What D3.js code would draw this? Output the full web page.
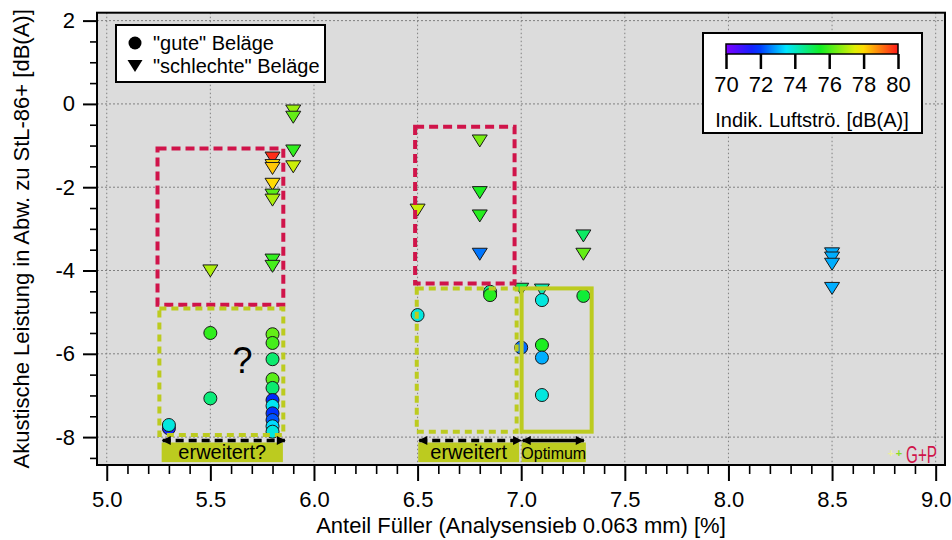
<!DOCTYPE html>
<html><head><meta charset="utf-8">
<script src="https://cdn.jsdelivr.net/npm/d3@7"></script>
<style>body{margin:0;background:#fff} svg{display:block;font-family:"Liberation Sans",Arial,sans-serif}</style>
</head><body><svg id="c" width="952" height="540"></svg>
<script>
// ---- data ----
const goodX = [5.5, 5.5, 5.3, 5.3, 5.8, 5.8, 5.8, 5.8, 5.8, 5.8, 5.8, 5.8, 5.8, 5.8, 5.8, 6.5, 6.85, 6.85, 7.0, 7.1, 7.1, 7.1, 7.1, 7.3];
const goodY = [-5.50, -7.07, -7.79, -7.71, -5.53, -5.74, -6.13, -6.61, -6.82, -7.11, -7.25, -7.43, -7.59, -7.74, -7.87, -5.07, -4.51, -4.59, -5.85, -4.71, -5.79, -6.09, -6.99, -4.61];
const goodC = [75.8, 74.7, 71.5, 73.8, 76.3, 76.0, 74.8, 76.2, 74.8, 71.8, 73.6, 71.9, 72.2, 73.4, 73.8, 73.8, 74.5, 75.7, 72.4, 73.8, 75.6, 73.0, 73.8, 75.3];
const badX = [5.5, 5.8, 5.8, 5.8, 5.8, 5.8, 5.8, 5.8, 5.8, 5.9, 5.9, 5.9, 5.9, 6.5, 6.8, 6.8, 6.8, 6.8, 7.0, 7.1, 7.3, 7.3, 8.5, 8.5, 8.5, 8.5];
const badY = [-4.01, -1.30, -1.48, -1.55, -1.93, -2.19, -2.31, -3.75, -3.90, -0.17, -0.32, -1.13, -1.51, -2.55, -0.89, -2.13, -2.69, -3.61, -4.45, -4.47, -3.17, -3.61, -3.60, -3.70, -3.85, -4.43];
const badC = [77.0, 79.8, 78.0, 78.2, 78.0, 76.2, 77.0, 75.8, 76.0, 76.8, 76.3, 75.8, 77.3, 77.3, 76.5, 75.6, 75.7, 72.5, 75.0, 74.2, 74.9, 76.3, 73.0, 73.0, 73.0, 73.0];
const xMajor = [5.0, 5.5, 6.0, 6.5, 7.0, 7.5, 8.0, 8.5, 9.0];
const yMajor = [-8, -6, -4, -2, 0, 2];
const cbTicks = [70, 72, 74, 76, 78, 80];
const legendLabels = ['"gute" Beläge', '"schlechte" Beläge'];
const xTitle = "Anteil Füller (Analysensieb 0.063 mm) [%]";
const yTitle = "Akustische Leistung in Abw. zu StL-86+ [dB(A)]";
const cbTitle = "Indik. Luftströ. [dB(A)]";
// annotation boxes in data units: [x0, x1, y0, y1]
const boxRedLeft = [5.245, 5.852, -1.07, -4.82];
const boxYelLeft = [5.254, 5.852, -4.91, -7.95];
const boxRedMid = [6.488, 6.968, -0.55, -4.31];
const boxYelMid = [6.496, 6.978, -4.43, -7.87];
const boxOpt = [7.002, 7.340, -4.43, -7.87];
const labelBoxes = [
  {x0: 5.265, x1: 5.850, text: "erweitert?", dashed: true, fs: 20},
  {x0: 6.503, x1: 6.990, text: "erweitert", dashed: true, fs: 20},
  {x0: 7.002, x1: 7.312, text: "Optimum", dashed: false, fs: 16}
];

// ---- setup ----
const svg = d3.select("#c");
const L = 97, R = 945, T = 12.7, B = 465;
const x = d3.scaleLinear().domain([4.953, 9.045]).range([L, R]);
const y = d3.scaleLinear().domain([-8.67, 2.19]).range([B, T]);
const color = d3.scaleLinear()
  .domain([70, 71.8, 73.5, 75.5, 77.8, 80])
  .range(["#7f00ff", "#0028ff", "#00e6ff", "#12ee22", "#ffee00", "#ff1a1a"])
  .clamp(true);

const red = "#d0144a", yel = "#bccb1f";
const FF = "Liberation Sans, Arial, sans-serif";

svg.append("rect").attr("x", L).attr("y", T).attr("width", R - L).attr("height", B - T).attr("fill", "#dcdcdc");

// grid
svg.append("g").selectAll("line").data(xMajor).join("line")
  .attr("x1", d => x(d)).attr("x2", d => x(d)).attr("y1", T).attr("y2", B)
  .attr("stroke", "#808080").attr("stroke-width", 1).attr("stroke-dasharray", "1.5,2.5");
svg.append("g").selectAll("line").data(yMajor).join("line")
  .attr("x1", L).attr("x2", R).attr("y1", d => y(d)).attr("y2", d => y(d))
  .attr("stroke", "#808080").attr("stroke-width", 1).attr("stroke-dasharray", "2,2");

// axes
const xMinor = d3.range(50, 91).map(v => v / 10).filter(v => Math.round(v * 10) % 5 !== 0);
const yMinor = d3.range(-17, 5).map(v => v / 2).filter(v => v % 2 !== 0);
function styleAxis(g, w) { g.select(".domain").remove(); g.selectAll(".tick line").attr("stroke", "#000").attr("stroke-width", w); }
svg.append("g").attr("transform", `translate(0,${B})`)
  .call(d3.axisBottom(x).tickValues(xMinor).tickSize(9).tickFormat(""))
  .call(g => styleAxis(g, 1.6));
svg.append("g").attr("transform", `translate(0,${B})`)
  .call(d3.axisBottom(x).tickValues(xMajor).tickSize(16).tickPadding(10).tickFormat(d => d.toFixed(1)))
  .call(g => styleAxis(g, 2))
  .call(g => g.selectAll("text").attr("font-size", 22).attr("fill", "#000").attr("font-family", FF));
svg.append("g").attr("transform", `translate(${L},0)`)
  .call(d3.axisLeft(y).tickValues(yMinor).tickSize(7).tickFormat(""))
  .call(g => styleAxis(g, 1.6));
svg.append("g").attr("transform", `translate(${L},0)`)
  .call(d3.axisLeft(y).tickValues(yMajor).tickSize(14).tickPadding(8).tickFormat(d => String(d)))
  .call(g => styleAxis(g, 2))
  .call(g => g.selectAll("text").attr("font-size", 22).attr("fill", "#000").attr("font-family", FF));

// points
const tri = "M-7.5,-6L7.5,-6L0,6Z";
const good = goodX.map((v, i) => ({x: v, y: goodY[i], c: goodC[i]}));
const bad = badX.map((v, i) => ({x: v, y: badY[i], c: badC[i]}));
svg.append("g").selectAll("path").data(bad).join("path")
  .attr("d", tri).attr("transform", d => `translate(${x(d.x)},${y(d.y)})`)
  .attr("fill", d => color(d.c)).attr("stroke", "#1a1a1a").attr("stroke-width", 1);
svg.append("g").selectAll("circle").data(good).join("circle")
  .attr("cx", d => x(d.x)).attr("cy", d => y(d.y)).attr("r", 6.5)
  .attr("fill", d => color(d.c)).attr("stroke", "#1a1a1a").attr("stroke-width", 1);

// annotation boxes
function box(b, col, dash) {
  svg.append("rect").attr("x", x(b[0])).attr("y", y(b[2])).attr("width", x(b[1]) - x(b[0])).attr("height", y(b[3]) - y(b[2]))
    .attr("fill", "none").attr("stroke", col).attr("stroke-width", 4).attr("stroke-dasharray", dash);
}
box(boxRedLeft, red, "9,5");
box(boxYelLeft, yel, "7,5");
box(boxRedMid, red, "9,5");
box(boxYelMid, yel, "7,5");
box(boxOpt, yel, null);

// label boxes with arrows
const defs = svg.append("defs");
defs.append("marker").attr("id", "ah").attr("viewBox", "0 0 10 10").attr("refX", 9).attr("refY", 5)
  .attr("markerWidth", 15).attr("markerHeight", 9).attr("markerUnits", "userSpaceOnUse").attr("orient", "auto-start-reverse")
  .append("path").attr("d", "M0,0L10,5L0,10Z").attr("fill", "#000");
const lbY0 = -8.13, lbY1 = -8.60, arY = -8.08;
labelBoxes.forEach(lb => {
  svg.append("rect").attr("x", x(lb.x0)).attr("y", y(lbY0)).attr("width", x(lb.x1) - x(lb.x0)).attr("height", y(lbY1) - y(lbY0))
    .attr("fill", yel);
  svg.append("line").attr("x1", x(lb.x0) + 1).attr("x2", x(lb.x1) + (lb.dashed ? 2 : -2)).attr("y1", y(arY)).attr("y2", y(arY))
    .attr("stroke", "#000").attr("stroke-width", 3.5).attr("stroke-dasharray", lb.dashed ? "8,5" : null)
    .attr("marker-start", "url(#ah)").attr("marker-end", "url(#ah)");
  svg.append("text").attr("x", (x(lb.x0) + x(lb.x1)) / 2).attr("y", y(lbY1) - 3).attr("text-anchor", "middle")
    .attr("font-size", lb.fs).attr("fill", "#000").text(lb.text);
});

svg.append("text").attr("x", x(5.655)).attr("y", y(-6.46)).attr("text-anchor", "middle").attr("font-size", 36).text("?");

// frame
svg.append("rect").attr("x", L).attr("y", T).attr("width", R - L).attr("height", B - T).attr("fill", "none").attr("stroke", "#000").attr("stroke-width", 2);

// titles
svg.append("text").attr("x", (L + R) / 2).attr("y", 533).attr("text-anchor", "middle").attr("font-size", 22).text(xTitle);
svg.append("text").attr("transform", `translate(28.5,${(T + B) / 2}) rotate(-90)`).attr("text-anchor", "middle").attr("font-size", 22).text(yTitle);

// marker legend
const lg = svg.append("g");
lg.append("rect").attr("x", 116).attr("y", 25).attr("width", 209).attr("height", 57).attr("fill", "#fff").attr("stroke", "#000").attr("stroke-width", 2);
lg.append("circle").attr("cx", 135).attr("cy", 43).attr("r", 6.5).attr("fill", "#000");
lg.append("path").attr("d", tri).attr("transform", "translate(135,66)").attr("fill", "#000");
lg.append("text").attr("x", 153).attr("y", 50).attr("font-size", 20).text(legendLabels[0]);
lg.append("text").attr("x", 153).attr("y", 73).attr("font-size", 20).text(legendLabels[1]);

// colour bar legend
const cb = svg.append("g");
cb.append("rect").attr("x", 703).attr("y", 33).attr("width", 219).attr("height", 100).attr("fill", "#fff").attr("stroke", "#000").attr("stroke-width", 2);
const cx = d3.scaleLinear().domain([70, 80]).range([726, 898]);
const grad = defs.append("linearGradient").attr("id", "rb");
d3.range(0, 1.0001, 0.05).forEach(t => grad.append("stop").attr("offset", t).attr("stop-color", color(70 + 10 * t)));
cb.append("rect").attr("x", cx(70)).attr("y", 44).attr("width", cx(80) - cx(70)).attr("height", 10).attr("fill", "url(#rb)").attr("stroke", "#000").attr("stroke-width", 1.5);
cb.append("g").attr("transform", "translate(0,54)")
  .call(d3.axisBottom(cx).tickValues(cbTicks).tickSize(15).tickPadding(7).tickFormat(d => String(d)))
  .call(g => styleAxis(g, 2.5))
  .call(g => g.selectAll("text").attr("font-size", 22).attr("fill", "#000").attr("font-family", FF));
cb.append("text").attr("x", 812).attr("y", 127).attr("text-anchor", "middle").attr("font-size", 20).text(cbTitle);

// G+P mark
svg.append("text").attr("x", 891).attr("y", 457).attr("text-anchor", "middle").attr("font-size", 11).attr("font-weight", "bold").attr("fill", "#eef0a0").text("+");
svg.append("text").attr("x", 899).attr("y", 457).attr("text-anchor", "middle").attr("font-size", 11).attr("font-weight", "bold").attr("fill", "#88dd22").text("+");
svg.append("text").attr("x", 906).attr("y", 463).attr("font-size", 23).attr("fill", red)
  .attr("textLength", 31).attr("lengthAdjust", "spacingAndGlyphs").text("G+P");
</script></body></html>
